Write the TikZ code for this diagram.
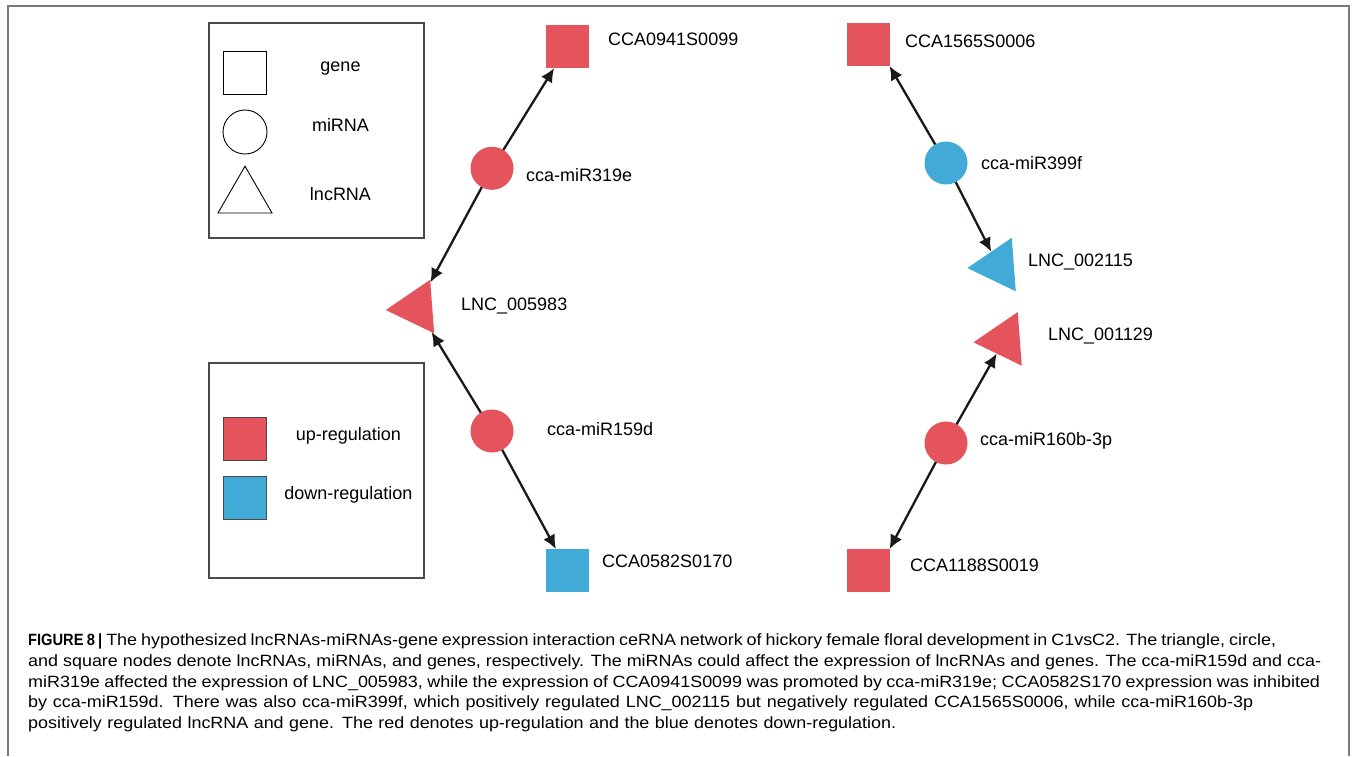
\documentclass[tikz,border=0pt]{standalone}
\usepackage{fontspec}
\setmainfont{Liberation Sans}
\newfontfamily\capfont{Liberation Sans}[FakeStretch=1.1]
\newfontface\capbold{Liberation Sans Bold}[FakeStretch=0.9]
\usetikzlibrary{shapes.geometric,arrows.meta}
\definecolor{upred}{HTML}{E5545D}
\definecolor{downblue}{HTML}{42AAD6}
\definecolor{edgeblack}{HTML}{1C1818}
\definecolor{framegray}{HTML}{7A7A7A}
\definecolor{boxgray}{HTML}{4A4A4A}
\begin{document}
\begin{tikzpicture}[x=1pt,y=-1pt,
  lbl/.style={anchor=base west,inner sep=0pt,font=\fontsize{18}{20}\selectfont},
  leglbl/.style={anchor=base,inner sep=0pt,font=\fontsize{18}{20}\selectfont},
  gsq/.style={rectangle,minimum size=43pt,inner sep=0pt,outer sep=0pt},
  mcirc/.style={circle,minimum size=43pt,inner sep=0pt,outer sep=0pt},
  ltri/.style={regular polygon,regular polygon sides=3,minimum size=62pt,inner sep=0pt,outer sep=0pt,regular polygon rotate=94.3},
  conn/.style={draw=edgeblack,line width=2.3pt,-{Latex[length=14pt,width=13pt]}},
  legbox/.style={draw=boxgray,line width=1.2pt},
  legshape/.style={draw=black,line width=0.9pt},
  capline/.style={anchor=base west,inner sep=0pt,font=\capfont\fontsize{16.3}{20}\selectfont}
]
\useasboundingbox (0,0) rectangle (1356,756);
\fill[white] (0,0) rectangle (1356,756);
% outer frame
\draw[framegray,line width=1.5pt] (8,756) -- (8,6) -- (1349,6) -- (1349,756);

% legend 1
\draw[legbox] (209,23) rectangle (424,238);
\node[gsq,legshape] (lgsq) at (245,73) {};
\node[mcirc,legshape,minimum size=44pt] (lgcirc) at (245,132) {};
\node[regular polygon,regular polygon sides=3,minimum size=62.4pt,inner sep=0pt,legshape] (lgtri) at (245,197.4) {};
\node[leglbl] (lgt1) at (340.5,71) {gene};
\node[leglbl] (lgt2) at (340.5,131.7) {miRNA};
\node[leglbl] (lgt3) at (340.5,200) {lncRNA};

% legend 2
\draw[legbox] (209,363) rectangle (424,578);
\node[gsq,fill=upred,draw=boxgray,line width=0.9pt] (lgup) at (245,439) {};
\node[gsq,fill=downblue,draw=boxgray,line width=0.9pt] (lgdown) at (245,498) {};
\node[leglbl] (lgt4) at (348.3,440.3) {up-regulation};
\node[leglbl] (lgt5) at (348.3,499) {down-regulation};

% network nodes
\node[gsq,fill=upred] (g0941) at (567.5,46.5) {};
\node[mcirc,fill=upred] (m319) at (492,168.3) {};
\node[ltri,fill=upred] (l5983) at (416.7,307.7) {};
\node[mcirc,fill=upred] (m159) at (492,431) {};
\node[gsq,fill=downblue] (g0582) at (567.5,570.5) {};
\node[gsq,fill=upred] (g1565) at (868,44.5) {};
\node[mcirc,fill=downblue] (m399) at (946,163) {};
\node[ltri,fill=downblue] (l2115) at (998.3,265.7) {};
\node[ltri,fill=upred] (l1129) at (1004.3,340) {};
\node[mcirc,fill=upred] (m160) at (946,443) {};
\node[gsq,fill=upred] (g1188) at (868,570.5) {};

% labels
\node[lbl] (t0941) at (608,45) {CCA0941S0099};
\node[lbl] (t319) at (526,181.5) {cca-miR319e};
\node[lbl] (t5983) at (461,310) {LNC\_005983};
\node[lbl] (t159) at (547,435) {cca-miR159d};
\node[lbl] (t0582) at (602,567.3) {CCA0582S0170};
\node[lbl] (t1565) at (905,47.7) {CCA1565S0006};
\node[lbl] (t399) at (981,169.3) {cca-miR399f};
\node[lbl] (t2115) at (1028,266) {LNC\_002115};
\node[lbl] (t1129) at (1048,340.7) {LNC\_001129};
\node[lbl] (t160) at (980,445) {cca-miR160b-3p};
\node[lbl] (t1188) at (910,571) {CCA1188S0019};

% connectors
\draw[conn] (m319) -- (g0941);
\draw[conn] (m319) -- (l5983);
\draw[conn] (m159) -- (l5983);
\draw[conn] (m159) -- (g0582);
\draw[conn] (m399) -- (g1565.south east);
\draw[conn] (m399) -- (l2115);
\draw[conn] (m160) -- (l1129);
\draw[conn] (m160) -- (g1188.north east);

% caption
\node[capline] (cap1) at (28,645.5) {\hbox to 1248pt{{\capbold FIGURE 8 |} The hypothesized lncRNAs-miRNAs-gene expression interaction ceRNA network of hickory female floral development in C1vsC2. The triangle, circle,}};
\node[capline] (cap2) at (28,666.3) {\hbox to 1293pt{and square nodes denote lncRNAs, miRNAs, and genes, respectively. The miRNAs could affect the expression of lncRNAs and genes. The cca-miR159d and cca-}};
\node[capline] (cap3) at (28,687) {\hbox to 1292pt{miR319e affected the expression of LNC\_005983, while the expression of CCA0941S0099 was promoted by cca-miR319e; CCA0582S170 expression was inhibited}};
\node[capline] (cap4) at (28,707.8) {\hbox to 1225pt{by cca-miR159d. There was also cca-miR399f, which positively regulated LNC\_002115 but negatively regulated CCA1565S0006, while cca-miR160b-3p}};
\node[capline] (cap5) at (28,728.5) {\hbox to 868pt{positively regulated lncRNA and gene. The red denotes up-regulation and the blue denotes down-regulation.}};
\end{tikzpicture}
\end{document}
